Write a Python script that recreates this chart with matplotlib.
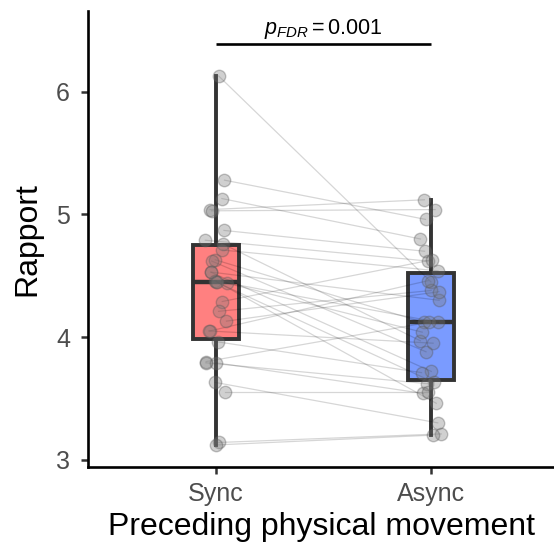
import numpy as np
import matplotlib
matplotlib.use("Agg")
from matplotlib import pyplot as plt

plt.rcParams['font.family'] = ['Liberation Sans', 'DejaVu Sans']
plt.rcParams['mathtext.fontset'] = 'custom'
plt.rcParams['mathtext.rm'] = 'Liberation Sans'
plt.rcParams['mathtext.it'] = 'Liberation Sans:italic'

# data, one entry per participant (paired)
conditions = ["Sync", "Async"]
sync_vals = [6.13, 5.28, 5.13, 5.04, 5.03, 4.87, 4.79, 4.76, 4.71, 4.63,
             4.62, 4.53, 4.53, 4.46, 4.45, 4.45, 4.44, 4.29, 4.21, 4.13,
             4.05, 4.05, 3.96, 3.80, 3.79, 3.79, 3.63, 3.55, 3.14, 3.12]
async_vals = [4.45, 4.96, 4.80, 5.12, 5.04, 4.70, 4.62, 3.97, 4.54, 4.12,
              3.88, 4.30, 3.72, 4.12, 3.63, 3.46, 4.04, 4.63, 4.38, 4.37,
              4.46, 3.95, 3.71, 4.12, 3.62, 3.54, 3.30, 3.55, 3.21, 3.20]
p_label = r"$p_{FDR} = 0.001$"
y_ticks = [3, 4, 5, 6]

box_colors = ["#FF8080", "#7A9BFF"]
dark = "#333333"

fig = plt.figure(figsize=(5.54, 5.45), dpi=100)
ax = fig.add_axes([88 / 554, 78 / 545, 1 - 88 / 554, 456 / 545])

pos = np.arange(1, len(conditions) + 1)
bp = ax.boxplot([sync_vals, async_vals], positions=pos, widths=0.21,
                whis=(0, 100), showfliers=False, patch_artist=True,
                boxprops=dict(linewidth=2.8, edgecolor=dark),
                whiskerprops=dict(linewidth=2.8, color=dark),
                capprops=dict(linewidth=0),
                medianprops=dict(linewidth=3.2, color=dark),
                zorder=1)
for patch, c in zip(bp['boxes'], box_colors):
    patch.set_facecolor(c)

# jitter for the points (position only)
rng = np.random.default_rng(7)
jit_s = rng.uniform(-0.05, 0.05, len(sync_vals))
jit_a = rng.uniform(-0.05, 0.05, len(async_vals))
xs = pos[0] + jit_s
xa = pos[1] + jit_a

for i in range(len(sync_vals)):
    ax.plot([xs[i], xa[i]], [sync_vals[i], async_vals[i]], color="#000000",
            alpha=0.16, linewidth=0.9, zorder=2)
ax.scatter(np.concatenate([xs, xa]), sync_vals + async_vals, s=80,
           color="#7a7a7a", alpha=0.35, edgecolors="#555555",
           linewidths=1.0, zorder=3)

# significance bar
ax.plot([pos[0], pos[1]], [6.39, 6.39], color="black", linewidth=1.9,
        solid_capstyle="butt", clip_on=False)
ax.text(pos.mean(), 6.415, p_label, ha="center", va="bottom", fontsize=15.5)

ax.set_xlim(0.405, 2.572)
ax.set_ylim(2.94, 6.66)
ax.set_xticks(pos)
ax.set_xticklabels(conditions)
ax.set_yticks(y_ticks)
ax.tick_params(axis="both", colors=dark, labelcolor="#4D4D4D", labelsize=18,
               length=5, width=1.8)
ax.tick_params(axis="x", pad=6)
ax.tick_params(axis="y", pad=8)
for side in ["top", "right"]:
    ax.spines[side].set_visible(False)
for side in ["left", "bottom"]:
    ax.spines[side].set_linewidth(1.9)
    ax.spines[side].set_color("black")

ax.set_xlabel("Preceding physical movement", fontsize=23, labelpad=4)
ax.set_ylabel("Rapport", fontsize=23, labelpad=10)

fig.savefig("out.png", dpi=100)
